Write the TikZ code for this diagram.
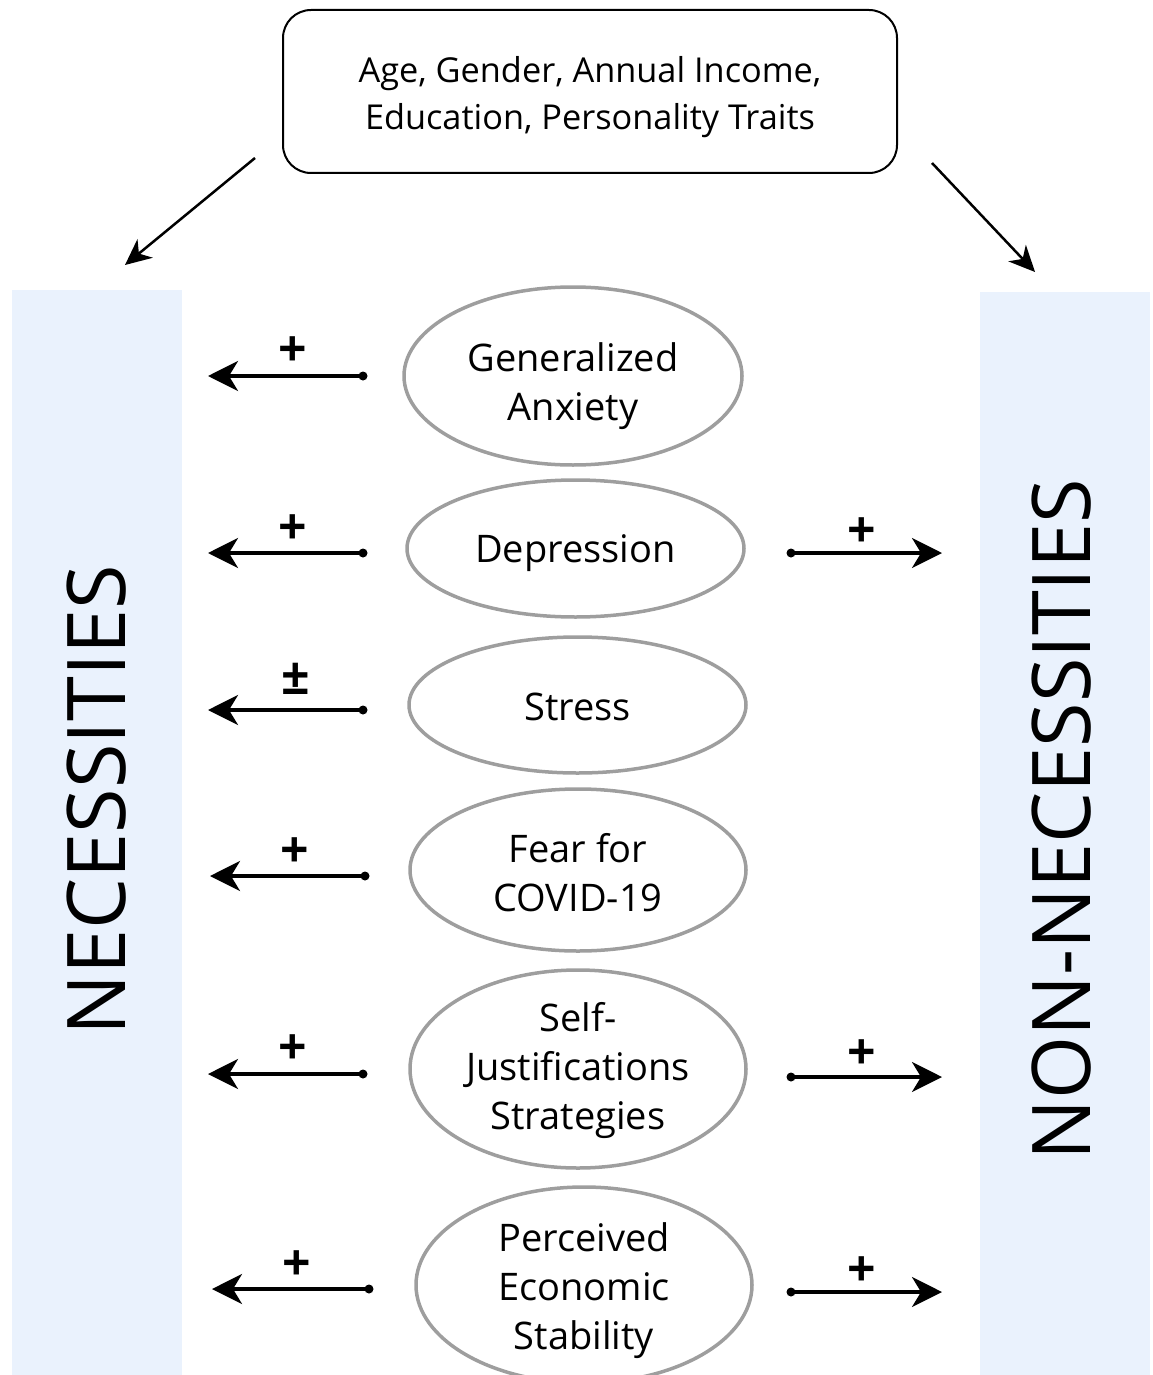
\documentclass[tikz,border=0pt]{standalone}
\usepackage{fontspec}
\setmainfont{Open Sans}
\usetikzlibrary{arrows.meta,shapes.geometric}
\definecolor{barblue}{HTML}{EAF2FD}
\definecolor{ellgray}{HTML}{9E9E9E}
\begin{document}
\begin{tikzpicture}[x=1pt,y=-1pt,
  bar/.style={fill=barblue,draw=none,minimum width=170pt,inner sep=0pt},
  oval/.style={ellipse,draw=ellgray,line width=3.5pt,inner sep=0pt},
  ovaltext/.style={align=center,inner sep=0pt,font=\fontsize{38}{49}\selectfont},
  conn/.style={line width=3.5pt,-{Stealth[length=30pt,width=30pt,inset=9pt]}},
  dotc/.style={circle,fill=black,inner sep=0pt,minimum size=9pt},
  sign/.style={inner sep=0pt,font=\fontsize{50}{50}\selectfont\bfseries},
  topline/.style={line width=2.5pt,-{Stealth[length=26pt,width=24pt,inset=8pt]}}
]
\useasboundingbox (0,0) rectangle (1152,1375);
\begin{scope}
\clip (0,0) rectangle (1152,1375);
% side bars
\node[bar,minimum height=1085pt,anchor=north west] (lbar) at (12,290) {};
\node[bar,minimum height=1083pt,anchor=north west] (rbar) at (980,292) {};
\node[rotate=90,font=\fontsize{81}{81}\selectfont] (nec) at (97,800) {NECESSITIES};
\node[rotate=90,font=\fontsize{81}{81}\selectfont] (nonnec) at (1062,820) {NON-NECESSITIES};

% top box
\node[draw,line width=2pt,rounded corners=28pt,minimum width=614pt,minimum height=163pt] (top) at (590,91.5) {};
\node[align=center,font=\fontsize{34.3}{47}\selectfont] (toptext) at (590,97) {Age, Gender, Annual Income,\\Education, Personality Traits};
\coordinate (tl1) at (255,158); \coordinate (tl2) at (125,265);
\coordinate (tr1) at (932,163); \coordinate (tr2) at (1035,272);
\draw[topline] (tl1) -- (tl2);
\draw[topline] (tr1) -- (tr2);

% ellipses
\node[oval,minimum width=338pt,minimum height=178pt] (e1) at (573,376) {};
\node[ovaltext] (t1) at ([yshift=-10pt]e1.center) {Generalized\\Anxiety};
\node[oval,minimum width=337pt,minimum height=137pt] (e2) at (575.5,548.5) {};
\node[ovaltext] (t2) at ([yshift=-5pt]e2.center) {Depression};
\node[oval,minimum width=337pt,minimum height=136pt] (e3) at (577.5,705) {};
\node[ovaltext] (t3) at ([yshift=-2pt]e3.center) {Stress};
\node[oval,minimum width=336pt,minimum height=162pt] (e4) at (578,870) {};
\node[ovaltext] (t4) at ([yshift=-3pt]e4.center) {Fear for\\COVID-19};
\node[oval,minimum width=336pt,minimum height=198pt] (e5) at (578,1069) {};
\node[ovaltext] (t5) at ([yshift=-2pt]e5.center) {Self-\\Justifications\\Strategies};
\node[oval,minimum width=336pt,minimum height=196pt] (e6) at (584,1285) {};
\node[ovaltext] (t6) at ([yshift=-6pt]e6.center) {Perceived\\Economic\\Stability};

% left connectors
\foreach \i/\y/\s/\e in {1/376/363/208, 2/553/363/208, 3/710/363/208, 4/876/365/210, 5/1074/363/208, 6/1289/369/212}{
  \node[dotc] (ld\i) at (\s,\y) {};
  \coordinate (lt\i) at (\e,\y);
  \draw[conn] (ld\i.center) -- (lt\i);
}
% right connectors
\foreach \i/\y in {2/553, 5/1077, 6/1292}{
  \node[dotc] (rd\i) at (791,\y) {};
  \coordinate (rt\i) at (942,\y);
  \draw[conn] (rd\i.center) -- (rt\i);
}
% signs
\node[sign] (s1) at (293,352) {+};
\node[sign] (s2) at (293,530) {+};
\node[sign] (s3) at (296,679) {±};
\node[sign] (s4) at (295,853) {+};
\node[sign] (s5) at (293,1050) {+};
\node[sign] (s6) at (297,1266) {+};
\node[sign] (r2) at (862,533) {+};
\node[sign] (r5) at (862,1055) {+};
\node[sign] (r6) at (862,1272) {+};
\end{scope}
\end{tikzpicture}
\end{document}
